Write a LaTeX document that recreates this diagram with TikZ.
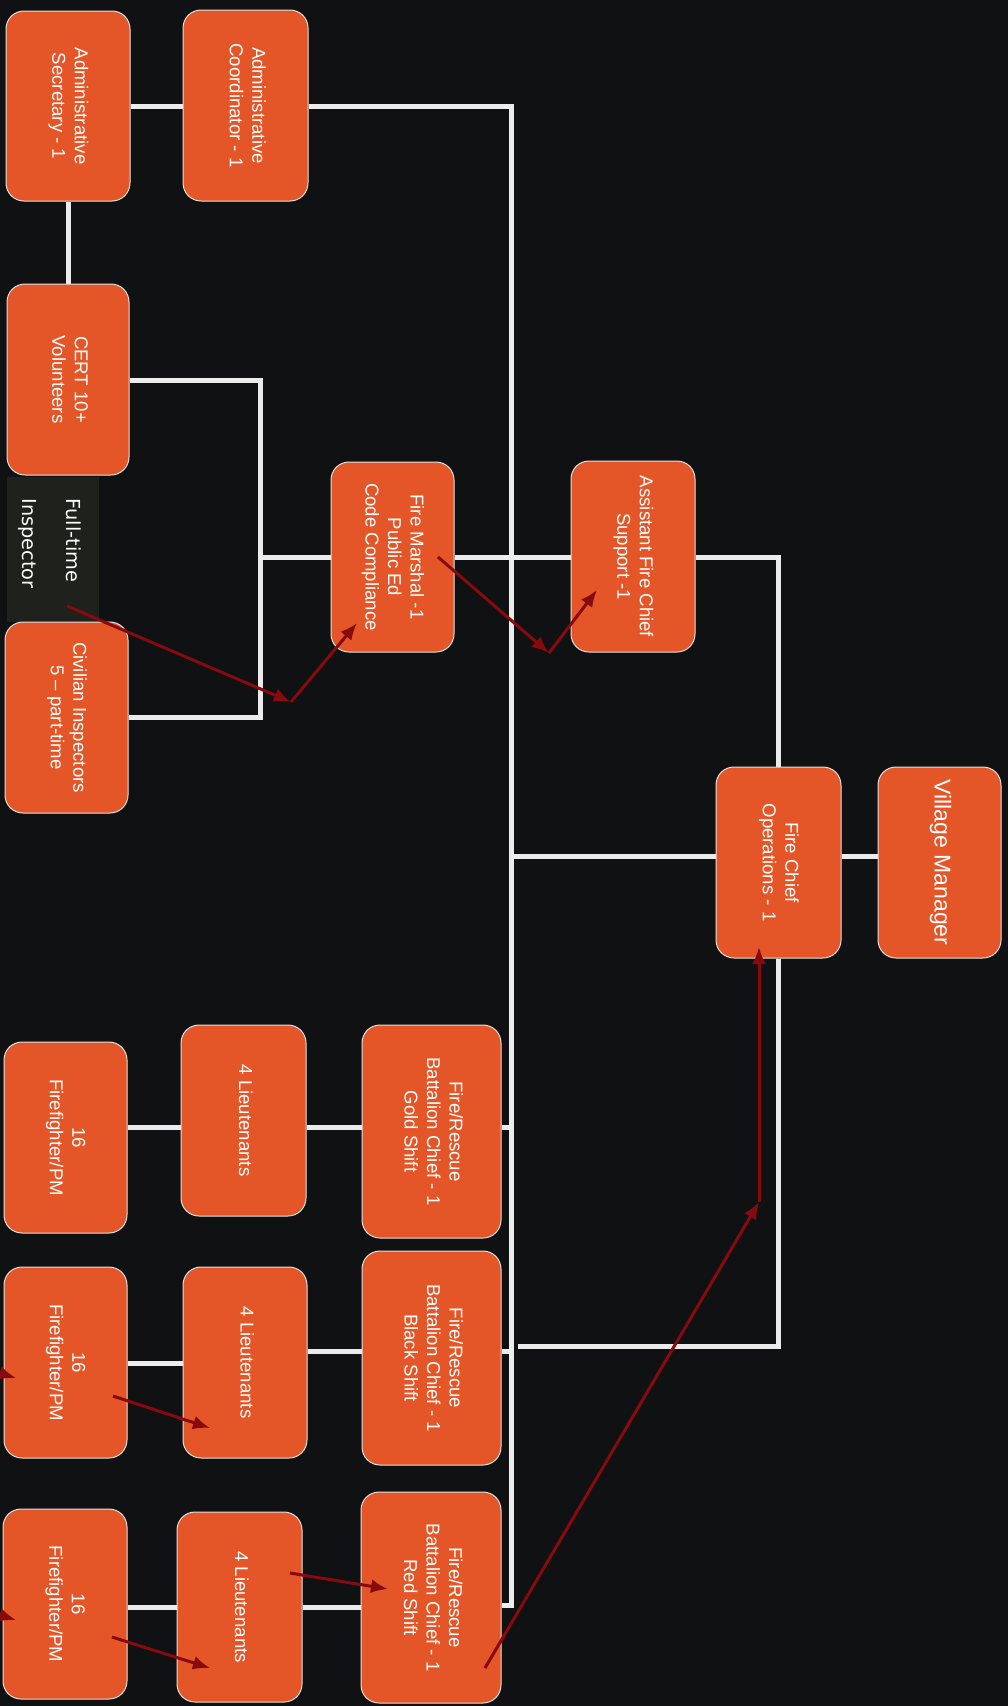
\documentclass[tikz,border=0pt]{standalone}
\usepackage{fontspec}
\setmainfont{Liberation Sans}
\newfontfamily\ftifont{DejaVu Sans}
\usepackage{graphicx}
\usetikzlibrary{arrows.meta}
\definecolor{bgc}{RGB}{16,17,19}
\definecolor{boxfill}{RGB}{228,86,40}
\definecolor{boxline}{RGB}{225,225,225}
\definecolor{wire}{RGB}{236,236,236}
\definecolor{arrowred}{RGB}{135,10,14}
\definecolor{ftifill}{RGB}{30,33,28}
\newcommand\rtext[2]{\rotatebox{-90}{\fontsize{#1}{22.5}\selectfont\begin{tabular}{@{}c@{}}#2\end{tabular}}}
\pgfdeclarelayer{bg}\pgfdeclarelayer{wires}\pgfsetlayers{bg,wires,main}
\begin{document}
\begin{tikzpicture}[x=1pt,y=-1pt,
  obox/.style={draw=boxline, line width=1pt, fill=boxfill, rounded corners=18pt, inner sep=0pt, text=white},
  wirestyle/.style={draw=wire, line width=5pt},
  redarrow/.style={draw=arrowred, line width=3pt, -{Latex[length=17pt,width=14pt]}}]
\useasboundingbox (0,0) rectangle (1008,1706);
\begin{pgfonlayer}{bg}
\fill[bgc] (0,0) rectangle (1008,1706);
\end{pgfonlayer}

% nodes
\node[obox, minimum width=124pt, minimum height=190pt] (sec) at (68,106) {\rtext{18.6}{Administrative\\Secretary - 1}};
\node[obox, minimum width=125pt, minimum height=191pt] (coord) at (245.5,105.5) {\rtext{18.6}{Administrative\\Coordinator - 1}};
\node[obox, minimum width=122pt, minimum height=191pt] (cert) at (68,379.5) {\rtext{18.6}{CERT 10+\\Volunteers}};
\node[fill=ftifill, inner sep=0pt, minimum width=92pt, minimum height=145pt, text=white] (fti) at (53,549.5)
  {\rotatebox{-90}{\ftifont\fontsize{19.3}{44}\selectfont\begin{tabular}{@{}l@{\hspace{12pt}}}Full-time\\Inspector\end{tabular}}};
\node[obox, minimum width=123pt, minimum height=191pt] (civ) at (66.5,717.5) {\rtext{18.6}{Civilian Inspectors\\5 -- part-time}};
\node[obox, minimum width=123pt, minimum height=190pt] (fm) at (392.5,557) {\rtext{18.6}{Fire Marshal -1\\Public Ed\\Code Compliance}};
\node[obox, minimum width=124pt, minimum height=191pt] (afc) at (633,556.5) {\rtext{18.6}{Assistant Fire Chief\\Support -1}};
\node[obox, minimum width=125pt, minimum height=191pt] (fc) at (778.5,862.5) {\rtext{18.6}{Fire Chief\\Operations - 1}};
\node[obox, minimum width=123pt, minimum height=191pt] (vm) at (939.5,862.5) {\rtext{23}{Village Manager}};

\node[obox, minimum width=139pt, minimum height=213pt] (gbc) at (431.5,1131.5) {\rtext{18.6}{Fire/Rescue\\Battalion Chief - 1\\Gold Shift}};
\node[obox, minimum width=125pt, minimum height=191pt] (glt) at (243.5,1120.5) {\rtext{18.6}{4 Lieutenants}};
\node[obox, minimum width=123pt, minimum height=191pt] (gff) at (65.5,1137.5) {\rtext{18.6}{16\\Firefighter/PM}};

\node[obox, minimum width=139pt, minimum height=214pt] (bbc) at (431.5,1358) {\rtext{18.6}{Fire/Rescue\\Battalion Chief - 1\\Black Shift}};
\node[obox, minimum width=124pt, minimum height=191pt] (blt) at (245,1362.5) {\rtext{18.6}{4 Lieutenants}};
\node[obox, minimum width=123pt, minimum height=191pt] (bff) at (65.5,1362.5) {\rtext{18.6}{16\\Firefighter/PM}};

\node[obox, minimum width=140pt, minimum height=211pt] (rbc) at (431,1597.5) {\rtext{18.6}{Fire/Rescue\\Battalion Chief - 1\\Red Shift}};
\node[obox, minimum width=125pt, minimum height=190pt] (rlt) at (239.5,1607) {\rtext{18.6}{4 Lieutenants}};
\node[obox, minimum width=124pt, minimum height=190pt] (rff) at (65,1604) {\rtext{18.6}{16\\Firefighter/PM}};

% white connectors
\coordinate (sptop) at (511,106);
\coordinate (spbot) at (511,1605);
\coordinate (cmid) at (260,380);
\coordinate (cbot) at (260,717);
\coordinate (fcy) at (0,856);
\coordinate (fcend) at (518,1346);
\coordinate (gy) at (0,1127);
\coordinate (by) at (0,1351);
\coordinate (bly) at (0,1363);
\coordinate (ry) at (0,1607);
\begin{pgfonlayer}{wires}
\draw[wirestyle] (sec.east) -- (coord.west |- sec.east);
\draw[wirestyle] (sec.south) -- (cert.north);
\draw[wirestyle] (coord.east |- sptop) -- (sptop) -- (spbot) -- (rbc.east |- spbot);
\draw[wirestyle] (cert.east |- cmid) -- (cmid) -- (cbot) -- (civ.east |- cbot);
\draw[wirestyle] (cmid |- fm.west) -- (fm.west);
\draw[wirestyle] (fm.east) -- (afc.west |- fm.east);
\draw[wirestyle] (afc.east |- fm.east) -- (fc.north |- fm.east) -- (fc.north);
\draw[wirestyle] (fc.west |- fcy) -- (sptop |- fcy);
\draw[wirestyle] (fc.east |- fcy) -- (vm.west |- fcy);
\draw[wirestyle] (fc.south) -- (fc.south |- fcend) -- (fcend);
\draw[wirestyle] (sptop |- gy) -- (gbc.east |- gy);
\draw[wirestyle] (sptop |- by) -- (bbc.east |- by);
\draw[wirestyle] (gbc.west |- gy) -- (glt.east |- gy);
\draw[wirestyle] (glt.west |- gy) -- (gff.east |- gy);
\draw[wirestyle] (bbc.west |- by) -- (blt.east |- by);
\draw[wirestyle] (blt.west |- bly) -- (bff.east |- bly);
\draw[wirestyle] (rbc.west |- ry) -- (rlt.east |- ry);
\draw[wirestyle] (rlt.west |- ry) -- (rff.east |- ry);
\end{pgfonlayer}

% red arrows
\coordinate (a1s) at (67,606);
\coordinate (j1) at (291,702);
\coordinate (a1e) at (357,623);
\coordinate (a2s) at (438,557);
\coordinate (j2) at (549,653);
\coordinate (a2e) at (597,590);
\coordinate (a3s) at (485,1668);
\coordinate (j3) at (759,1202);
\coordinate (a3e) at (759,947);
\coordinate (a4s) at (290,1573);
\coordinate (a4e) at (388,1589);
\coordinate (a5s) at (112,1637);
\coordinate (a5e) at (210,1668);
\coordinate (a6s) at (113,1396);
\coordinate (a6e) at (210,1428);
\coordinate (a7s) at (-80,1349);
\coordinate (a7e) at (16,1378);
\coordinate (a8s) at (-80,1591);
\coordinate (a8e) at (16,1620);
\draw[redarrow] (a1s) -- (j1);
\draw[redarrow] (j1) -- (a1e);
\draw[redarrow] (a2s) -- (j2);
\draw[redarrow] (j2) -- (a2e);
\draw[redarrow] (a3s) -- (j3);
\draw[redarrow] (j3) -- (a3e);
\draw[redarrow] (a4s) -- (a4e);
\draw[redarrow] (a5s) -- (a5e);
\draw[redarrow] (a6s) -- (a6e);
\draw[redarrow] (a7s) -- (a7e);
\draw[redarrow] (a8s) -- (a8e);
\end{tikzpicture}
\end{document}
